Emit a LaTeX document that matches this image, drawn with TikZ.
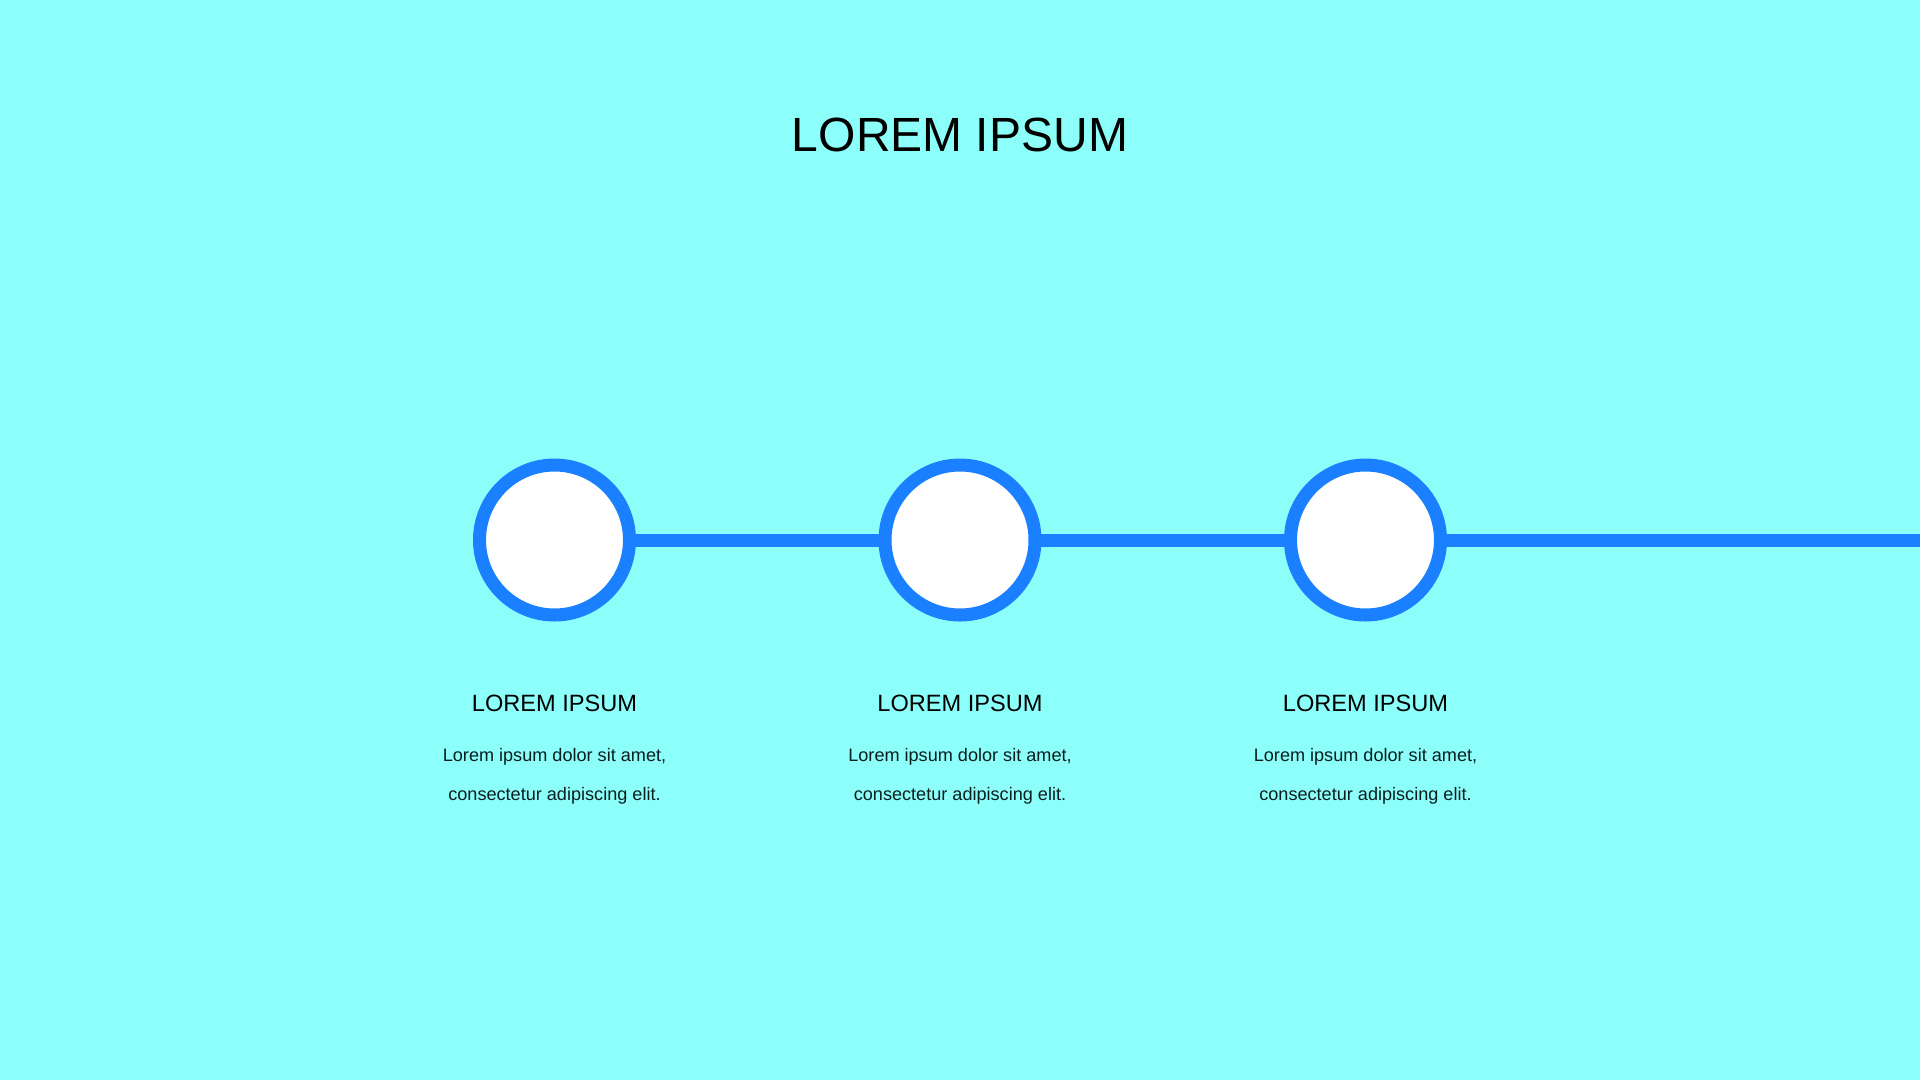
\documentclass[tikz,border=0pt]{standalone}
\usepackage{fontspec}
\setmainfont{Liberation Sans}
\definecolor{bgc}{HTML}{8CFFFB}
\definecolor{ringc}{HTML}{1A80FF}
\definecolor{bodyc}{HTML}{0A1E1E}
\begin{document}
\begin{tikzpicture}[x=1pt,y=-1pt,
  ring/.style={circle,draw=ringc,fill=white,line width=13pt,minimum size=150pt,inner sep=0pt,outer sep=0pt},
  link/.style={draw=ringc,line width=13pt},
  titletext/.style={anchor=base,font=\fontsize{48}{56}\selectfont,text=black,inner sep=0pt},
  headtext/.style={anchor=base,font=\fontsize{23.6}{28}\selectfont,text=black,inner sep=0pt},
  bodytext/.style={anchor=base,font=\fontsize{18.1}{22}\selectfont,text=bodyc,inner sep=0pt}]
\useasboundingbox (0,0) rectangle (1920,1080);
\fill[bgc] (0,0) rectangle (1920,1080);
\node[titletext] (title) at (960,151) {LOREM IPSUM};
\node[ring] (c1) at (554.5,540) {};
\node[ring] (c2) at (960,540) {};
\node[ring] (c3) at (1365.5,540) {};
\coordinate (edge) at (1920,540);
\draw[link] (c1.east) -- (c2.west);
\draw[link] (c2.east) -- (c3.west);
\draw[link] (c3.east) -- (edge);
\foreach \i/\x in {1/554.5,2/960,3/1365.5}{
  \node[headtext] (h\i) at (\x,711) {LOREM IPSUM};
  \node[bodytext] (a\i) at (\x,761) {Lorem ipsum dolor sit amet,};
  \node[bodytext] (b\i) at (\x,800) {consectetur adipiscing elit.};
}
\end{tikzpicture}
\end{document}
